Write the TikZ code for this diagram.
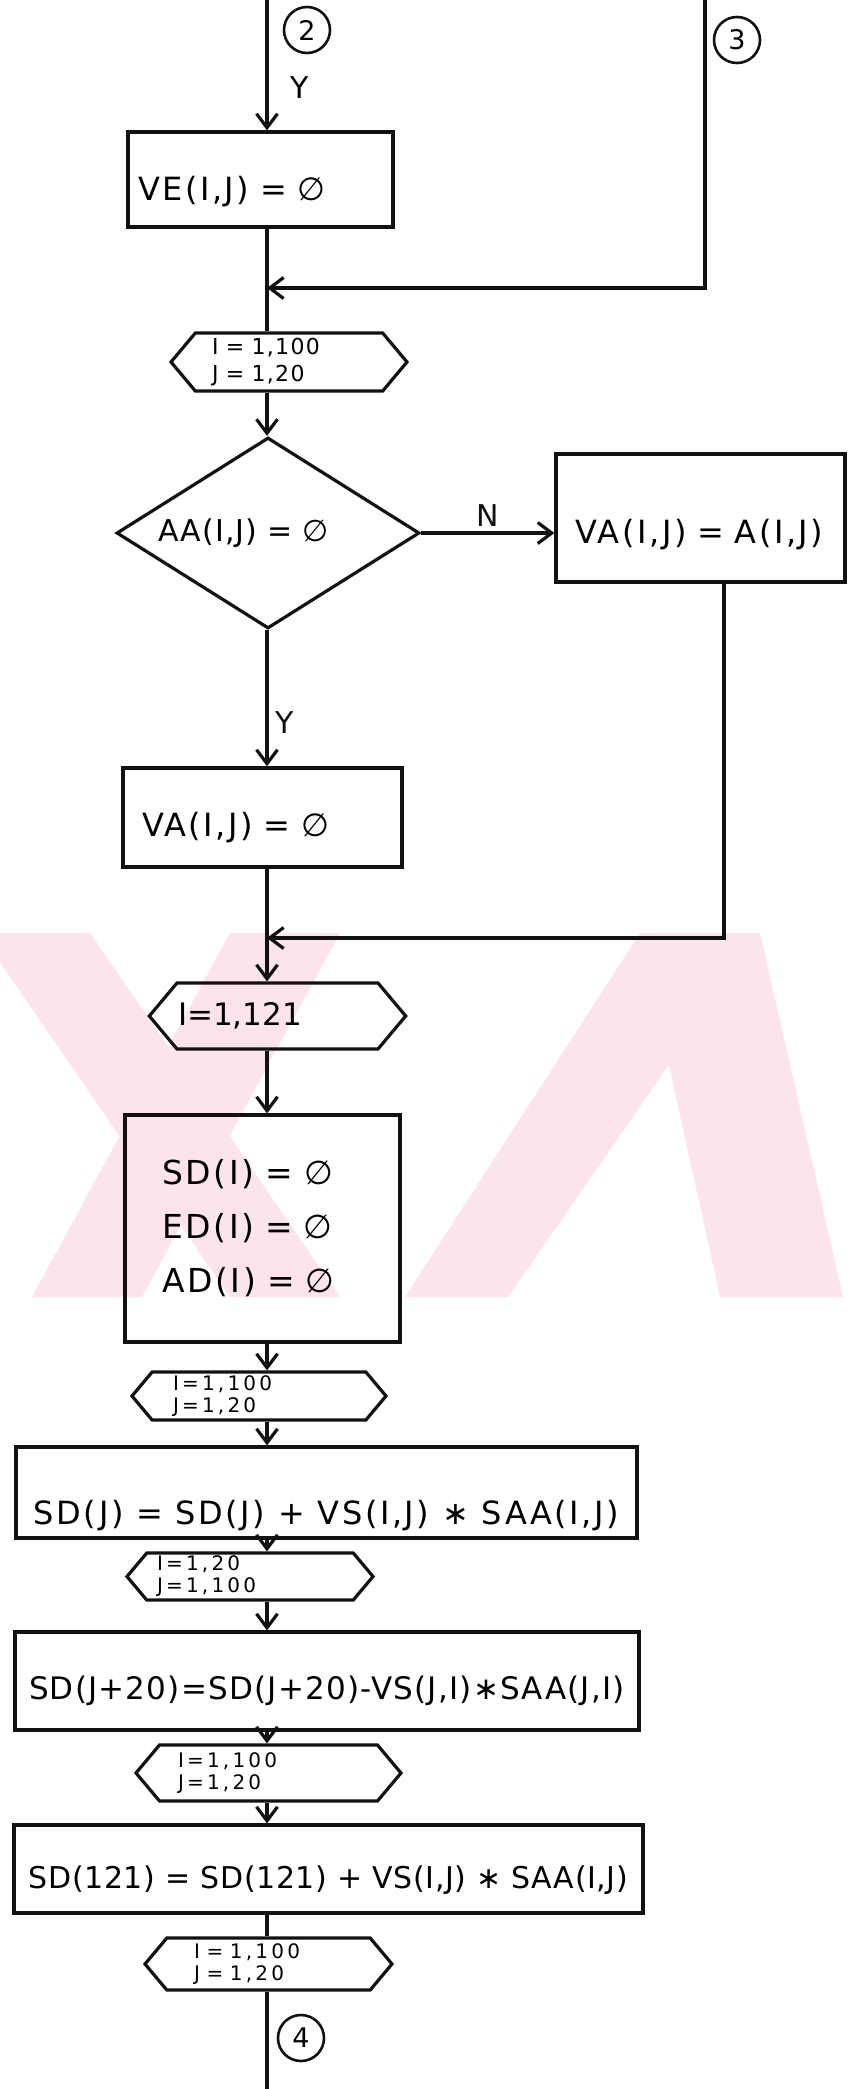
\documentclass[tikz,border=0pt]{standalone}
\usepackage{fontspec}
\setmainfont{DejaVu Sans}
\usetikzlibrary{arrows.meta,positioning,shapes.geometric,shapes.symbols,calc}
\definecolor{ink}{HTML}{111111}
\definecolor{wmpink}{HTML}{FCE4EA}

\tikzset{
  flow/.style={ink,line width=3.2pt},
  arr/.style={flow,-{Straight Barb[length=14pt,width=21pt]}},
  procbox/.style={draw=ink,line width=3.2pt,rectangle,inner sep=3pt,
    font=\fontsize{32}{38}\selectfont\addfontfeature{LetterSpace=8}},
  loopbox/.style={draw=ink,line width=3.2pt,signal,signal to=west and east,
    signal pointer angle=100,inner sep=1pt,align=left,
    font=\fontsize{20}{22}\selectfont\addfontfeature{LetterSpace=16}},
  lbl/.style={font=\fontsize{30}{30}\selectfont},
  conn/.style={draw=ink,line width=2.6pt,circle,minimum size=46pt,inner sep=0pt,
    font=\fontsize{27}{27}\selectfont},
  tshift/.style={text height=#1,text depth=8pt},
}

\begin{document}
\begin{tikzpicture}[x=1pt,y=-1pt]
  \useasboundingbox (0,0) rectangle (847,2089);

  % faint background stamp
  \fill[wmpink] (-20,933) -- (90,933) -- (340,1297) -- (230,1297) -- cycle;
  \fill[wmpink] (230,933) -- (340,933) -- (142,1297) -- (32,1297) -- cycle;
  \fill[wmpink] (640,933) -- (760,933) -- (508,1297) -- (405,1297) -- cycle;
  \fill[wmpink] (640,933) -- (760,933) -- (843,1297) -- (720,1297) -- cycle;

  % spine and off-page connectors
  \coordinate (sp) at (267,0);
  \coordinate (in2) at (267,0);
  \coordinate (in3) at (705,0);
  \coordinate (out4) at (267,2089);

  \node[procbox,minimum width=265pt,minimum height=95pt,text width=245pt,align=left,tshift=50pt]
    (ve) at (260.5,179.5) {VE(I,J) = ∅};
  \node[loopbox,minimum width=236pt,minimum height=58pt,text width=154pt,
    font=\fontsize{22}{27}\selectfont\addfontfeature{LetterSpace=6}]
    (h1) at (289,362) {I = 1,100\\J = 1,20};
  \node[draw=ink,line width=3.2pt,diamond,aspect=1.59,minimum width=303pt,minimum height=191pt,
    inner sep=2pt,text width=220pt,align=left,font=\fontsize{30}{34}\selectfont\addfontfeature{LetterSpace=4}]
    (dec) at (268,533) {AA(I,J) = ∅};
  \node[procbox,minimum width=289pt,minimum height=128pt,text width=250pt,align=left,tshift=59pt]
    (va1) at (700.5,518) {VA(I,J) = A(I,J)};
  \node[procbox,minimum width=279pt,minimum height=99pt,text width=241pt,align=left,tshift=46pt]
    (va0) at (262.5,817.5) {VA(I,J) = ∅};
  \node[loopbox,minimum width=255pt,minimum height=66pt,text width=199pt,
    font=\fontsize{31}{31}\selectfont]
    (h2) at (277.5,1016) {I=1,121};
  \node[procbox,minimum width=275pt,minimum height=227pt,text width=201pt,align=left,
    font=\fontsize{33}{54}\selectfont\addfontfeature{LetterSpace=8}]
    (sd) at (262.5,1228.5) {SD(I) = ∅\\ED(I) = ∅\\AD(I) = ∅};
  \node[loopbox,minimum width=254pt,minimum height=48pt,text width=172pt]
    (h3) at (259,1396) {I=1,100\\J=1,20};
  \node[procbox,minimum width=621pt,minimum height=91pt,align=center,tshift=72pt]
    (l1) at (326.5,1492.5) {SD(J) = SD(J) + VS(I,J) ∗ SAA(I,J)};
  \node[loopbox,minimum width=246pt,minimum height=47pt,text width=186pt]
    (h4) at (250,1576.5) {I=1,20\\J=1,100};
  \node[procbox,minimum width=624pt,minimum height=98pt,align=center,tshift=45pt,
    font=\fontsize{31}{38}\selectfont\addfontfeature{LetterSpace=4}]
    (l2) at (327,1681) {SD(J+20)=SD(J+20)-VS(J,I)∗SAA(J,I)};
  \node[loopbox,minimum width=265pt,minimum height=56pt,text width=181pt]
    (h5) at (268.5,1773) {I=1,100\\J=1,20};
  \node[procbox,minimum width=629pt,minimum height=88pt,align=center,tshift=47pt,
    font=\fontsize{30}{38}\selectfont\addfontfeature{LetterSpace=2}]
    (l3) at (328.5,1869) {SD(121) = SD(121) + VS(I,J) ∗ SAA(I,J)};
  \node[loopbox,minimum width=247pt,minimum height=52pt,text width=149pt]
    (h6) at (268.5,1964) {I = 1,100\\J = 1,20};

  % connector circles and branch labels
  \node[conn] (c2) at (307,30) {2};
  \node[conn] (c3) at (737,40) {3};
  \node[conn] (c4) at (301,2038) {4};
  \node[lbl] (y1) at (300,88) {Y};

  % flow lines
  \draw[arr] (in2) -- (ve.north -| sp);
  \draw[flow] (ve.south -| sp) -- (h1.north -| sp);
  \coordinate (m1) at (705,288);
  \draw[arr] (in3) -- (m1) -- (m1 -| sp);
  \draw[arr] (h1.south -| sp) -- (dec.north -| sp);
  \draw[arr] (dec.east) -- (dec.east -| va1.west) node[lbl,midway,above=2pt] (nlab) {N};
  \draw[arr] (dec.south -| sp) -- (va0.north -| sp) node[lbl,pos=0.68,right=4pt] (y2) {Y};
  \coordinate (m2) at (724,938);
  \draw[arr] (va1.south -| m2) -- (m2) -- (m2 -| sp);
  \draw[arr] (va0.south -| sp) -- (h2.north -| sp);
  \draw[arr] (h2.south -| sp) -- (sd.north -| sp);
  \draw[arr] (sd.south -| sp) -- (h3.north -| sp);
  \draw[arr] (h3.south -| sp) -- (l1.north -| sp);
  \draw[arr] (l1.south -| sp) -- (h4.north -| sp);
  \draw[arr] (h4.south -| sp) -- (l2.north -| sp);
  \draw[arr] (l2.south -| sp) -- (h5.north -| sp);
  \draw[arr] (h5.south -| sp) -- (l3.north -| sp);
  \draw[flow] (l3.south -| sp) -- (h6.north -| sp);
  \draw[flow] (h6.south -| sp) -- (out4);
\end{tikzpicture}
\end{document}
